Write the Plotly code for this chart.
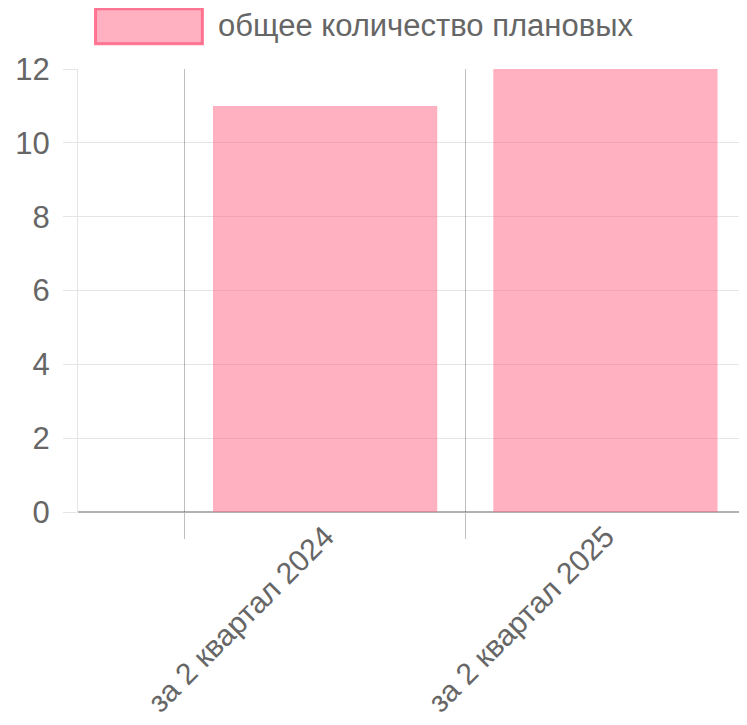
import plotly.graph_objects as go

categories = ["за 2 квартал 2024", "за 2 квартал 2025"]
values = [11, 12]
series_name = "общее количество плановых"
y_ticks = [0, 2, 4, 6, 8, 10, 12]

FONT = "Liberation Sans, Arial, sans-serif"
FS = 31
GRAY = "#666666"
FILL = "rgba(255,99,132,0.5)"
EDGE = "rgba(255,99,132,0.85)"

OFF = 8  # page body margin
W, H = 747 - OFF, 725 - OFF
L, T = 77.5 - OFF, 69.3 - OFF
R = 0
B = H - (512 - OFF)

fig = go.Figure()
fig.add_trace(go.Bar(
    x=categories, y=values, name=series_name, width=0.8,
    marker=dict(color=FILL, line=dict(width=0)),
    showlegend=False, hoverinfo="x+y",
))

fig.update_layout(
    width=W, height=H,
    margin=dict(l=L, r=R, t=T, b=B, pad=0),
    paper_bgcolor="white", plot_bgcolor="white",
    font=dict(family=FONT, size=FS, color=GRAY),
    bargap=0.2,
    xaxis=dict(
        type="category",
        range=[-0.8815, 1.505],
        automargin=False,
        tickson="boundaries",
        ticks="outside", ticklen=26, tickwidth=1, tickcolor="rgba(0,0,0,0.25)",
        showgrid=True, gridcolor="rgba(0,0,0,0.25)", gridwidth=1,
        tickangle=-45,
        ticklabelstandoff=0,
        tickfont=dict(family=FONT, size=30, color=GRAY),
        showline=False, zeroline=False,
    ),
    yaxis=dict(
        range=[0, 12],
        automargin=False,
        tickvals=y_ticks,
        ticks="outside", ticklen=14, tickwidth=1, tickcolor="rgba(0,0,0,0.1)",
        showgrid=True, gridcolor="rgba(0,0,0,0.1)", gridwidth=1,
        showline=True, linecolor="rgba(0,0,0,0.1)", linewidth=1,
        zeroline=True, zerolinecolor="rgba(0,0,0,0.3)", zerolinewidth=1.5,
        ticklabelstandoff=7,
        tickfont=dict(family=FONT, size=FS, color=GRAY),
    ),
)

PW, PH = W - L - R, H - T - B
def px_x(x):
    return (x - OFF - L) / PW
def px_y(y):
    return (H - B - (y - OFF)) / PH

# Legend drawn as a box + text (Chart.js style wide swatch)
fig.add_shape(
    type="rect", xref="paper", yref="paper",
    x0=px_x(95), x1=px_x(202), y0=px_y(44), y1=px_y(9),
    fillcolor=FILL, line=dict(color=EDGE, width=3), layer="above",
)
fig.add_annotation(
    xref="paper", yref="paper",
    x=px_x(216), y=px_y(26),
    xanchor="left", yanchor="middle", showarrow=False,
    text=series_name, font=dict(family=FONT, size=FS, color=GRAY),
)

fig.write_html("out.html")
